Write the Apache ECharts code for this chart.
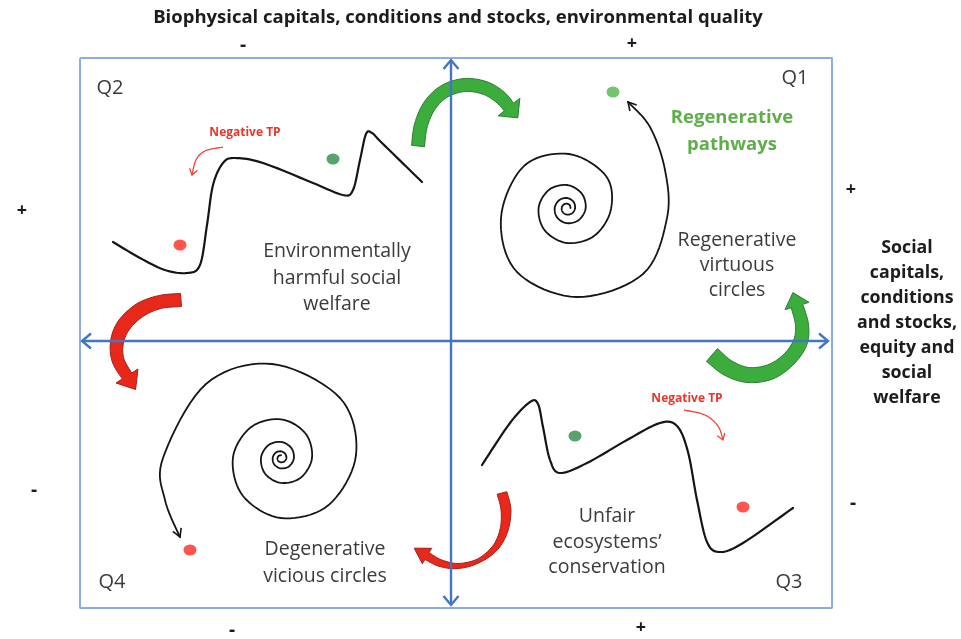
<!DOCTYPE html>
<html>
<head>
<meta charset="utf-8">
<title>Regenerative and degenerative pathways</title>
<script src="https://cdn.jsdelivr.net/npm/echarts@6/dist/echarts.min.js"></script>
<style>
  html, body { margin: 0; padding: 0; background: #fff; }
  #chart { width: 961px; height: 639px; }
</style>
</head>
<body>
<div id="chart"></div>
<script>
// the diagram sits on a 961 x 639 value grid (x to the right, y downwards)
var frame     = [[80, 58], [832, 58], [832, 608], [80, 608], [80, 58]];
var xAxisLine = [[82, 341], [828, 341]];
var yAxisLine = [[451, 605], [451, 60]];

var q2Curve = [[113, 242], [140, 258], [165, 270], [187, 273], [200, 265], [207, 225], [213, 185],
               [223, 163], [235, 158], [263, 163], [313, 183], [343, 195], [353, 190], [360, 160],
               [366, 134], [372, 133], [382, 143], [422, 182]];
var q3Curve = [[482, 465], [510, 423], [530, 402], [538, 404], [543, 427], [550, 460], [560, 473],
               [587, 463], [627, 440], [660, 423], [677, 426], [688, 452], [697, 500], [707, 542],
               [720, 552], [743, 543], [793, 508]];

var q1Spiral = [[570.5, 208], [569.8, 205.2], [567, 203.7], [563.6, 204.6], [561.7, 208], [562.8, 212.2],
                [567, 214.6], [572.2, 213.2], [575.1, 208], [573.4, 201.6], [567, 198], [559.2, 200.2],
                [554.7, 208], [557.3, 217.7], [567, 223.2], [578.9, 219.9], [585.7, 208], [581.6, 193.4],
                [567, 185], [548.9, 189.9], [538.6, 208], [544.7, 230.3], [567, 243], [594.6, 235.6],
                [611, 209], [606, 176], [569, 154], [524, 166], [501, 218], [517, 272], [577, 297],
                [643, 274], [667, 218], [665, 170], [650, 127], [628, 102]];
var q4Spiral = [[281, 455.2], [278.8, 455.8], [277.5, 458], [278.2, 460.8], [281, 462.3], [284.4, 461.4],
                [286.4, 458], [285.2, 453.8], [281, 451.3], [275.7, 452.7], [272.7, 458], [274.4, 464.6],
                [281, 468.4], [289.2, 466.2], [293.9, 458], [291.2, 447.8], [281, 441.9], [268.3, 445.3],
                [261, 458], [265.2, 473.8], [281, 482.9], [300.7, 477.7], [312, 458], [305.5, 433.5],
                [281, 419.3], [250.5, 427.5], [232.9, 458], [243, 496], [281, 518], [328.3, 505.3],
                [356, 455], [340, 398], [272, 364], [206, 384], [163, 458], [165, 500], [180, 537]];

var redDots    = [[180, 245], [190, 550], [743, 507]];
var greenDots  = [[333, 159], [575, 436]];
var pathwayDot = [[613, 92]];

var tpArrowQ2 = [[223, 147], [205, 151], [196, 160], [192, 175]];
var tpArrowQ3 = [[684, 410], [705, 415], [718, 426], [723, 440]];

var greenTop   = [[418, 146], [421, 125], [430, 105], [445, 91], [465, 85], [485, 88], [500, 97], [509, 107]];
var greenRight = [[712, 355], [728, 368], [748, 375], [770, 372], [788, 360], [800, 343], [802, 325], [797, 306]];
var redLeft    = [[181, 300], [160, 302], [140, 310], [124, 325], [117, 342], [118, 360], [127, 376]];
var redBottom  = [[502, 493], [506, 510], [504, 530], [495, 548], [478, 561], [458, 566], [440, 563], [427, 556]];

var chart = echarts.init(document.getElementById('chart'));

function unit(a, b) {
  var dx = b[0] - a[0], dy = b[1] - a[1], l = Math.sqrt(dx * dx + dy * dy) || 1;
  return [dx / l, dy / l];
}

// catmull-rom pass so curves and thick bodies bend smoothly
function densify(p, w, n) {
  var out = [], ow = [];
  for (var i = 0; i < p.length - 1; i++) {
    var p0 = p[i - 1] || p[i], p1 = p[i], p2 = p[i + 1], p3 = p[i + 2] || p[i + 1];
    for (var k = 0; k < n; k++) {
      var t = k / n, t2 = t * t, t3 = t2 * t, q = [];
      for (var d = 0; d < 2; d++) {
        q.push(0.5 * (2 * p1[d] + (-p0[d] + p2[d]) * t + (2 * p0[d] - 5 * p1[d] + 4 * p2[d] - p3[d]) * t2 +
               (-p0[d] + 3 * p1[d] - 3 * p2[d] + p3[d]) * t3));
      }
      out.push(q);
      if (w) ow.push(w[i] + (w[i + 1] - w[i]) * t);
    }
  }
  out.push(p[p.length - 1]);
  if (w) ow.push(w[w.length - 1]);
  return {pts: out, w: ow};
}

function chevron(tip, from, len, wid, color, lw) {
  var u = unit(from, tip), nx = -u[1], ny = u[0];
  var bx = tip[0] - u[0] * len, by = tip[1] - u[1] * len;
  return {
    type: 'polyline',
    shape: {points: [[bx + nx * wid / 2, by + ny * wid / 2], tip, [bx - nx * wid / 2, by - ny * wid / 2]]},
    style: {stroke: color, lineWidth: lw, fill: null, lineJoin: 'miter'}
  };
}

function curveSeries(pts, color, lw) {
  return {
    type: 'custom',
    coordinateSystem: 'cartesian2d',
    data: [pts[0]],
    silent: true,
    z: 2,
    renderItem: function (params, api) {
      var px = pts.map(function (p) { return api.coord(p); });
      return {
        type: 'polyline',
        shape: {points: densify(px, null, 10).pts},
        style: {stroke: color, lineWidth: lw, fill: null, lineJoin: 'round', lineCap: 'round'}
      };
    }
  };
}

function arrowSeries(pts, o) {
  return {
    type: 'custom',
    coordinateSystem: 'cartesian2d',
    data: [pts[0]],
    silent: true,
    z: o.z || 3,
    renderItem: function (params, api) {
      var px = pts.map(function (p) { return api.coord(p); });
      var kids = [];
      if (o.widths) {
        var d = densify(px, o.widths, 8), left = [], right = [];
        for (var i = 0; i < d.pts.length; i++) {
          var u = unit(d.pts[Math.max(i - 1, 0)], d.pts[Math.min(i + 1, d.pts.length - 1)]);
          var h = d.w[i] / 2;
          left.push([d.pts[i][0] - u[1] * h, d.pts[i][1] + u[0] * h]);
          right.unshift([d.pts[i][0] + u[1] * h, d.pts[i][1] - u[0] * h]);
        }
        var e = d.pts[d.pts.length - 1], ue = unit(d.pts[d.pts.length - 3], e), hw = o.headW / 2;
        var head = [[e[0] - ue[1] * hw, e[1] + ue[0] * hw], [e[0] + ue[0] * o.headL, e[1] + ue[1] * o.headL],
                    [e[0] + ue[1] * hw, e[1] - ue[0] * hw]];
        kids.push({
          type: 'polygon',
          shape: {points: left.concat(head, right)},
          style: {fill: o.color, stroke: o.edge, lineWidth: 1, lineJoin: 'round'}
        });
      } else {
        if (!o.headOnly) {
          var body = o.smooth ? densify(px, null, 8).pts : px;
          kids.push({type: 'polyline', shape: {points: body},
                     style: {stroke: o.color, lineWidth: o.lineWidth, fill: null}});
        }
        var n = px.length;
        kids.push(chevron(px[n - 1], px[n - 2], o.headL, o.headW, o.color, o.lineWidth));
        if (o.both) kids.push(chevron(px[0], px[1], o.headL, o.headW, o.color, o.lineWidth));
      }
      return {type: 'group', children: kids};
    }
  };
}

function label(x, y, text, o) {
  return {
    type: 'text', x: x, y: y, z: 20, silent: true,
    style: {
      text: text, fill: o.color || '#3b3b3b', fontFamily: '"Open Sans", sans-serif',
      fontSize: o.size || 19.5, fontWeight: o.bold ? 'bold' : 'normal',
      align: 'center', verticalAlign: 'middle', lineHeight: o.lh || 22
    }
  };
}

var ink = '#1c1c1c';

var option = {
  animation: false,
  backgroundColor: '#ffffff',
  grid: {left: 0, right: 0, top: 0, bottom: 0},
  xAxis: {type: 'value', min: 0, max: 961, show: false},
  yAxis: {type: 'value', min: 0, max: 639, inverse: true, show: false},
  series: [
    {type: 'line', data: frame, symbol: 'none', silent: true, z: 1,
     lineStyle: {color: '#8eaee0', width: 2}},
    curveSeries(q2Curve, '#151515', 2.2),
    curveSeries(q3Curve, '#151515', 2.2),
    curveSeries(q1Spiral, '#151515', 1.8),
    curveSeries(q4Spiral, '#151515', 1.8),
    arrowSeries(q1Spiral.slice(-2), {headOnly: true, color: '#151515', lineWidth: 1.6, headL: 8, headW: 9}),
    arrowSeries(q4Spiral.slice(-2), {headOnly: true, color: '#151515', lineWidth: 1.6, headL: 8, headW: 9}),
    arrowSeries(tpArrowQ2, {color: '#f0453a', lineWidth: 1.3, smooth: true, headL: 6, headW: 8}),
    arrowSeries(tpArrowQ3, {color: '#f0453a', lineWidth: 1.3, smooth: true, headL: 6, headW: 8}),
    arrowSeries(greenTop, {widths: [13, 13, 13, 13, 13, 13, 13, 12], headL: 14, headW: 28,
                           color: '#3cad3c', edge: '#2a7d2e', z: 4}),
    arrowSeries(greenRight, {widths: [17, 16, 15, 15, 14, 14, 13, 12], headL: 14, headW: 25,
                             color: '#3cad3c', edge: '#2a7d2e', z: 4}),
    arrowSeries(redLeft, {widths: [13, 13, 14, 14, 13, 12, 11], headL: 16, headW: 26,
                          color: '#e8281b', edge: '#a81c16', z: 4}),
    arrowSeries(redBottom, {widths: [10, 10, 8, 6, 4, 5, 7, 8], headL: 15, headW: 18,
                            color: '#e8281b', edge: '#a81c16', z: 4}),
    arrowSeries(xAxisLine, {both: true, color: '#4276c4', lineWidth: 2.4, headL: 9, headW: 15, z: 6}),
    arrowSeries(yAxisLine, {both: true, color: '#4276c4', lineWidth: 2.4, headL: 9, headW: 15, z: 6}),
    {type: 'scatter', data: redDots, symbol: 'circle', symbolSize: [13, 11], silent: true, z: 7,
     itemStyle: {color: '#ff2a1f'}},
    {type: 'scatter', data: greenDots, symbol: 'circle', symbolSize: [13, 11], silent: true, z: 7,
     itemStyle: {color: '#2b8c48'}},
    {type: 'scatter', data: pathwayDot, symbol: 'circle', symbolSize: [13, 11], silent: true, z: 7,
     itemStyle: {color: '#4cb847'}}
  ],
  graphic: [
    label(458, 18, 'Biophysical capitals, conditions and stocks, environmental quality',
          {size: 18.5, bold: true, color: ink}),
    label(243, 46, '-', {size: 19, bold: true, color: ink}),
    label(632, 44, '+', {size: 18, bold: true, color: ink}),
    label(22, 211, '+', {size: 18, bold: true, color: ink}),
    label(34, 491, '-', {size: 19, bold: true, color: ink}),
    label(851, 190, '+', {size: 18, bold: true, color: ink}),
    label(853, 504, '-', {size: 19, bold: true, color: ink}),
    label(232, 631, '-', {size: 19, bold: true, color: ink}),
    label(641, 628, '+', {size: 18, bold: true, color: ink}),
    label(907, 323, 'Social\ncapitals,\nconditions\nand stocks,\nequity and\nsocial\nwelfare',
          {size: 17.8, bold: true, color: ink, lh: 25}),
    label(110, 88, 'Q2', {size: 20}),
    label(795, 78, 'Q1', {size: 20}),
    label(112, 582, 'Q4', {size: 20}),
    label(789, 582, 'Q3', {size: 20}),
    label(245, 133, 'Negative TP', {size: 12, bold: true, color: '#e8362b'}),
    label(687, 399, 'Negative TP', {size: 12, bold: true, color: '#e8362b'}),
    label(337, 278, 'Environmentally\nharmful social\nwelfare', {lh: 26.5}),
    label(732, 131, 'Regenerative\npathways', {size: 18.5, bold: true, color: '#5fae4a', lh: 27}),
    label(737, 265, 'Regenerative\nvirtuous\ncircles', {lh: 25}),
    label(325, 563, 'Degenerative\nvicious circles', {lh: 27}),
    label(607, 542, 'Unfair\necosystems\u2019\nconservation', {lh: 25.5})
  ]
};

chart.setOption(option);
window.onresize = function () { chart.resize(); };
</script>
</body>
</html>
